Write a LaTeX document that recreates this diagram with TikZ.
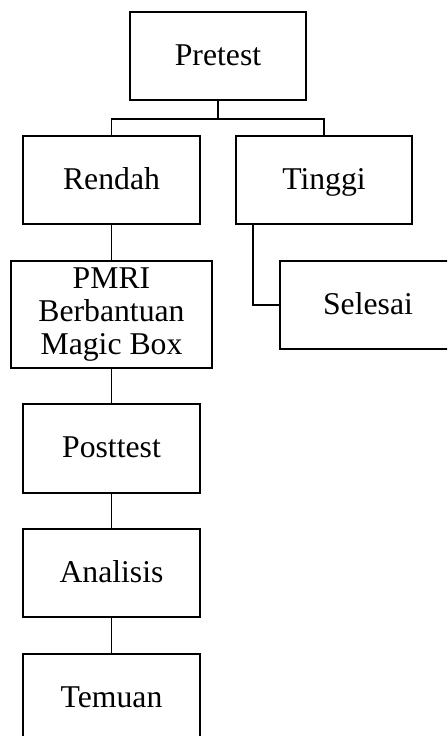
\documentclass[tikz,border=0pt]{standalone}
\usepackage{fontspec}
\setmainfont{Liberation Serif}
\begin{document}
\begin{tikzpicture}[x=1pt,y=1pt,
  boxst/.style={draw, line width=1.9pt, inner sep=0pt, minimum width=176pt, minimum height=88pt,
    font=\fontsize{31.7}{33}\selectfont, text height=22pt, text depth=4pt},
  multibox/.style={draw, line width=1.9pt, inner sep=0pt, minimum width=201pt, minimum height=107pt,
    font=\fontsize{31.7}{33}\selectfont, align=center},
  link/.style={line width=1.8pt}]
\useasboundingbox (0,0) rectangle (447,-736);
\clip (0,0) rectangle (447,-736);
\node[boxst] (pre) at (218,-56) {Pretest};
\node[boxst, minimum width=177pt] (ren) at (111.5,-180) {Rendah};
\node[boxst] (tin) at (324,-180) {Tinggi};
\node[multibox] (pmri) at (111.5,-314.5) {PMRI\\Berbantuan\\Magic Box};
\node[boxst] (sel) at (368,-305) {Selesai};
\node[boxst, minimum width=177pt, minimum height=89pt] (post) at (111.5,-448.5) {Posttest};
\node[boxst, minimum width=177pt] (ana) at (111.5,-573) {Analisis};
\node[boxst, minimum width=177pt] (tem) at (111.5,-698) {Temuan};
\coordinate (split) at ([yshift=-18pt]pre.south);
\coordinate (tfoot) at ([xshift=18pt]tin.south west);
\draw[link] (pre.south) -- (split) -| (ren.north);
\draw[link] (split) -| (tin.north);
\draw[link] (tfoot) |- (sel.west);
\draw[link] (ren.south) -- (pmri.north);
\draw[link] (pmri.south) -- (post.north);
\draw[link] (post.south) -- (ana.north);
\draw[link] (ana.south) -- (tem.north);
\end{tikzpicture}
\end{document}
